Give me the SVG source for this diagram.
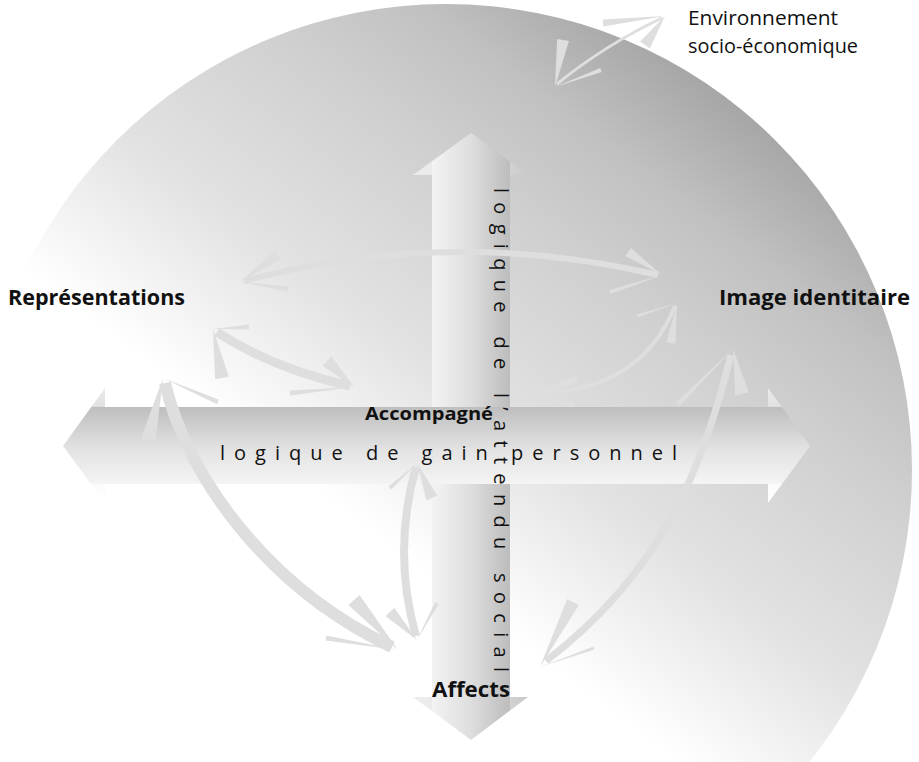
<svg xmlns="http://www.w3.org/2000/svg" width="919" height="762" viewBox="0 0 919 762">
  <defs>
    <!-- shading of the large disc: white along the lower-left diagonal, grey toward the upper right -->
    <linearGradient id="discGrad" gradientUnits="userSpaceOnUse" x1="313" y1="487" x2="649" y2="39">
      <stop offset="0" stop-color="#ffffff"/>
      <stop offset="0.3" stop-color="#e2e2e2"/>
      <stop offset="0.6" stop-color="#d0d0d0"/>
      <stop offset="0.8" stop-color="#c1c1c1"/>
      <stop offset="1" stop-color="#a6a6a6"/>
    </linearGradient>
    <!-- horizontal axis: darker top edge fading to light bottom -->
    <linearGradient id="hAxisGrad" x1="0" y1="0" x2="0" y2="1">
      <stop offset="0" stop-color="#e9e9e9"/>
      <stop offset="0.16" stop-color="#e2e2e2"/>
      <stop offset="0.166" stop-color="#bebebe"/>
      <stop offset="0.55" stop-color="#e4e4e4"/>
      <stop offset="0.83" stop-color="#f4f4f4"/>
      <stop offset="0.836" stop-color="#fbfbfb"/>
      <stop offset="1" stop-color="#ffffff"/>
    </linearGradient>
    <!-- vertical axis: light left edge fading to darker right edge -->
    <linearGradient id="vAxisGrad" x1="0" y1="0" x2="1" y2="0">
      <stop offset="0" stop-color="#ececec"/>
      <stop offset="0.163" stop-color="#ebebeb"/>
      <stop offset="0.167" stop-color="#f3f3f3"/>
      <stop offset="0.5" stop-color="#dedede"/>
      <stop offset="0.84" stop-color="#bdbdbd"/>
      <stop offset="0.846" stop-color="#d2d2d2"/>
      <stop offset="1" stop-color="#c8c8c8"/>
    </linearGradient>
  </defs>
  <style>
    .lbl { font-family: "Open Sans", "Liberation Sans", sans-serif; font-weight: 700; fill: #111; }
    .env { font-family: "Open Sans", "Liberation Sans", sans-serif; font-weight: 400; fill: #111; }
    .axis-txt { font-family: "Open Sans", "Liberation Sans", sans-serif; font-weight: 400; font-size: 20px; fill: #111; }
    .shaft { fill: none; stroke: #dedede; stroke-linecap: butt; }
    .barb { fill: #dedede; stroke: none; }
  </style>

  <rect width="919" height="762" fill="#ffffff"/>

  <!-- background disc (its lower-left part fades to white) -->
  <g id="disc">
    <circle cx="446" cy="470" r="466" fill="url(#discGrad)"/>
  </g>

  <!-- vertical axis: logique de l'attendu social -->
  <g id="axis-vertical">
    <path d="M471,133 L528,175 L510,175 L510,697 L528,697 L471,740 L413,697 L432,697 L432,175 L413,175 Z" fill="url(#vAxisGrad)"/>
  </g>

  <!-- horizontal axis: logique de gain personnel -->
  <g id="axis-horizontal">
    <path d="M63,446 L105,388 L105,407 L768,407 L768,388 L810,446 L768,503 L768,484 L105,484 L105,503 Z" fill="url(#hAxisGrad)"/>
  </g>

  <!-- curved double-headed connectors -->
  <g id="connectors">
    <!-- Environnement socio-économique -->
    <g id="link-env">
      <path class="shaft" stroke-width="3" d="M557,84 Q605,45 662,18"/>
      <polygon class="barb" points="665,16 602.6,19.5 603.4,26.5"/>
      <polygon class="barb" points="665,16 640.1,41.6 649.9,48.4"/>
      <polygon class="barb" points="555,87 568.9,41 557.1,39"/>
      <polygon class="barb" points="555,87 601.7,71.9 600.3,68.1"/>
    </g>
    <!-- Représentations / Image identitaire (upper arc) -->
    <g id="link-rep-img">
      <path class="shaft" stroke-width="6" d="M244,281 Q448,226 658,275"/>
      <polygon class="barb" points="240,282 280.9,259.1 275.1,250.9"/>
      <polygon class="barb" points="240,282 287.6,291.5 288.4,286.5"/>
      <polygon class="barb" points="662,275 630.8,247.9 625.2,256.1"/>
      <polygon class="barb" points="662,275 609.4,290.1 610.6,293.9"/>
    </g>
    <!-- Représentations / Accompagné -->
    <g id="link-rep-acc">
      <path class="shaft" stroke-width="9" d="M217,332 Q272,368 350,386"/>
      <polygon class="barb" points="213,329 215.1,379.3 228.9,376.7"/>
      <polygon class="barb" points="213,329 249.1,329.5 248.9,324.5"/>
      <polygon class="barb" points="354,387 331.5,356.3 322.5,365.7"/>
      <polygon class="barb" points="354,387 289.8,390.5 290.2,395.5"/>
    </g>
    <!-- Représentations / Affects -->
    <g id="link-rep-aff">
      <path class="shaft" stroke-width="12" d="M165,383 C185,470 262,585 392,647"/>
      <polygon class="barb" points="163,378 140.7,439.3 155.3,442.7"/>
      <polygon class="barb" points="163,378 217,404.3 219,399.7"/>
      <polygon class="barb" points="398,650 359.6,595 348.4,605"/>
      <polygon class="barb" points="398,650 326.4,635.5 325.6,640.5"/>
    </g>
    <!-- Accompagné / Affects -->
    <g id="link-acc-aff">
      <path class="shaft" stroke-width="8" d="M416,467 Q392,552 416,636"/>
      <polygon class="barb" points="417,463 426.5,500.4 437.5,495.6"/>
      <polygon class="barb" points="417,463 388.6,486.5 391.4,489.5"/>
      <polygon class="barb" points="417,640 394.3,607.8 385.7,616.2"/>
      <polygon class="barb" points="417,640 438.8,604 435.2,602"/>
    </g>
    <!-- Accompagné / Image identitaire -->
    <g id="link-acc-img">
      <path class="shaft" stroke-width="4" d="M536,393 Q640,392 675,306"/>
      <polygon class="barb" points="677,303 666.5,342.3 675.5,343.7"/>
      <polygon class="barb" points="677,303 636.5,314.6 637.5,317.4"/>
      <polygon class="barb" points="532,396 578.4,382.7 575.6,375.3"/>
      <polygon class="barb" points="532,396 572.5,407.4 573.5,402.6"/>
    </g>
    <!-- Image identitaire / Affects -->
    <g id="link-img-aff">
      <path class="shaft" stroke-width="7" d="M731,355 C702,470 662,572 546,661"/>
      <polygon class="barb" points="733,349 735.1,395.4 748.9,392.6"/>
      <polygon class="barb" points="733,349 676.2,402.2 679.8,405.8"/>
      <polygon class="barb" points="540,667 578.8,604.9 567.2,599.1"/>
      <polygon class="barb" points="540,667 594.5,649.4 593.5,646.6"/>
    </g>
  </g>

  <!-- axis captions -->
  <g id="axis-captions">
    <text class="axis-txt" x="220" y="460" textLength="457" lengthAdjust="spacing">logique de gain personnel</text>
    <text class="axis-txt" transform="translate(494,188) rotate(90)" x="0" y="0" textLength="484" lengthAdjust="spacing">logique de l’attendu social</text>
  </g>

  <!-- pole labels -->
  <g id="node-environnement">
    <text class="env" font-size="20" x="688" y="25" textLength="150" lengthAdjust="spacingAndGlyphs">Environnement</text>
    <text class="env" font-size="20" x="688" y="53" textLength="170" lengthAdjust="spacingAndGlyphs">socio-économique</text>
  </g>
  <g id="node-representations">
    <text class="lbl" font-size="21" x="8" y="305" textLength="177" lengthAdjust="spacingAndGlyphs">Représentations</text>
  </g>
  <g id="node-image">
    <text class="lbl" font-size="21" x="719" y="305" textLength="191" lengthAdjust="spacingAndGlyphs">Image identitaire</text>
  </g>
  <g id="node-accompagne">
    <text class="lbl" font-size="18" x="365" y="420" textLength="128" lengthAdjust="spacingAndGlyphs">Accompagné</text>
  </g>
  <g id="node-affects">
    <text class="lbl" font-size="21" x="432" y="697" textLength="78" lengthAdjust="spacingAndGlyphs">Affects</text>
  </g>
</svg>
